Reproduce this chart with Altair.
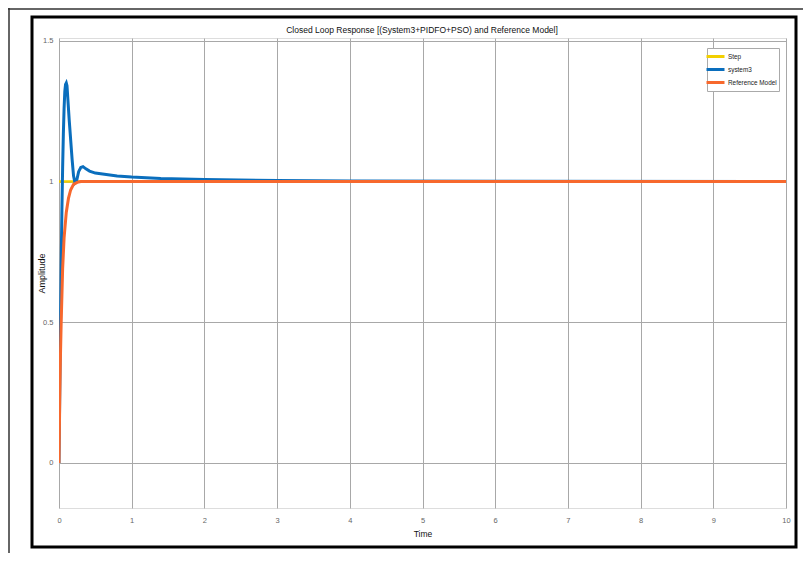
import altair as alt
import pandas as pd

# ---- data ----
step_t = [0.0, 10.0]
step_y = [1.0, 1.0]

sys_t = [0.0, 0.01, 0.02, 0.03, 0.04, 0.05, 0.06, 0.07, 0.08, 0.09, 0.10, 0.11,
         0.12, 0.14, 0.16, 0.18, 0.20, 0.22, 0.24, 0.27, 0.30, 0.33, 0.37, 0.42,
         0.50, 0.65, 0.80, 1.0, 1.4, 2.0, 3.0, 4.0, 6.0, 10.0]
sys_y = [0.0, 0.25, 0.48, 0.70, 0.90, 1.05, 1.17, 1.26, 1.32, 1.345, 1.35, 1.34,
         1.30, 1.22, 1.15, 1.08, 1.02, 0.995, 1.0, 1.035, 1.05, 1.053, 1.045, 1.037,
         1.03, 1.025, 1.02, 1.016, 1.011, 1.007, 1.004, 1.002, 1.001, 1.0]

ref_t = [0.0, 0.01, 0.02, 0.03, 0.05, 0.07, 0.10, 0.13, 0.16, 0.20, 0.25, 0.30,
         0.50, 1.0, 10.0]
ref_y = [0.0, 0.22, 0.38, 0.50, 0.69, 0.80, 0.89, 0.94, 0.97, 0.99, 0.997, 1.0,
         1.0, 1.0, 1.0]

series_names = ["Step", "system3", "Reference Model"]
series_colors = ["#F2CF00", "#0A6EBD", "#F7682D"]

x_ticks = [0, 1, 2, 3, 4, 5, 6, 7, 8, 9, 10]
y_ticks = [0, 0.5, 1, 1.5]

title_text = "Closed Loop Response [(System3+PIDFO+PSO) and Reference Model]"

rows = []
for t, y in zip(step_t, step_y):
    rows.append({"t": t, "y": y, "s": "Step"})
for t, y in zip(sys_t, sys_y):
    rows.append({"t": t, "y": y, "s": "system3"})
for t, y in zip(ref_t, ref_y):
    rows.append({"t": t, "y": y, "s": "Reference Model"})
df = pd.DataFrame(rows)

FONT = "Liberation Sans, Arial, sans-serif"

xenc = alt.X("t:Q", scale=alt.Scale(domain=[0, 10], nice=False, zero=False),
             axis=alt.Axis(title="Time", values=x_ticks, format="d", grid=True,
                           gridColor="#a8a8a8", gridWidth=1, domain=False, ticks=False,
                           labelColor="#666666", labelFontSize=7.5, labelFont=FONT,
                           labelPadding=8, titleFont=FONT, titleFontSize=8.5,
                           titleFontWeight="normal", titlePadding=6, titleColor="#111111",
                           labelFlush=False, labelOverlap=False))
yenc = alt.Y("y:Q", scale=alt.Scale(domain=[-0.16, 1.51], nice=False, zero=False),
             axis=alt.Axis(title="Amplitude", values=y_ticks, format="~g", grid=True,
                           gridColor="#a8a8a8", gridWidth=1, domain=False, ticks=False,
                           labelColor="#666666", labelFontSize=7.5, labelFont=FONT,
                           labelPadding=6, titleFont=FONT, titleColor="#111111",
                           titleFontSize=9, titleFontWeight="normal",
                           titleX=-18, titleY=235, titleAngle=270,
                           titleAlign="center", titleBaseline="middle",
                           labelFlush=False, labelOverlap=False))

cenc = alt.Color("s:N", scale=alt.Scale(domain=series_names, range=series_colors),
                 legend=alt.Legend(title=None, orient="none", legendX=648, legendY=10,
                                   symbolType="M-1.8,0H1.8", symbolStrokeWidth=3,
                                   symbolSize=100, labelFont=FONT, labelFontSize=6.4,
                                   labelColor="#222222", rowPadding=0, padding=2,
                                   strokeColor="#aaaaaa", fillColor="white",
                                   labelOffset=6))

layers = []
for name, w in zip(series_names, [2.5, 3, 3]):
    layers.append(
        alt.Chart(df).transform_filter(alt.datum.s == name)
        .mark_line(strokeWidth=w, clip=True)
        .encode(x=xenc, y=yenc, color=cenc, order="t:Q")
    )

one = alt.Data(values=[{"k": 1}])
title_mark = alt.Chart(alt.Data(values=[{"txt": title_text}])).mark_text(
    font=FONT, fontSize=8.5, color="#111111", align="center", baseline="middle"
).encode(x=alt.value(363), y=alt.value(-8), text="txt:N")
frame = alt.Chart(one).mark_rect(filled=False, stroke="black", strokeWidth=3).encode(
    x=alt.value(-27), x2=alt.value(737), y=alt.value(-21), y2=alt.value(509))
top_line = alt.Chart(one).mark_rule(stroke="#333333", strokeWidth=1.5).encode(
    x=alt.value(-51), x2=alt.value(744), y=alt.value(-29))
left_line = alt.Chart(one).mark_rule(stroke="#333333", strokeWidth=1.5).encode(
    x=alt.value(-50), y=alt.value(-30), y2=alt.value(515))

chart = alt.layer(*layers, title_mark, frame, top_line, left_line).properties(
    width=727, height=470,
    padding={"left": 51, "top": 30, "right": 17, "bottom": 45},
    autosize=alt.AutoSizeParams(type="none"),
).configure_view(stroke="#9a9a9a", strokeWidth=1).configure(background="white")

chart.save("out.html", embed_options={"renderer": "svg", "actions": False})
